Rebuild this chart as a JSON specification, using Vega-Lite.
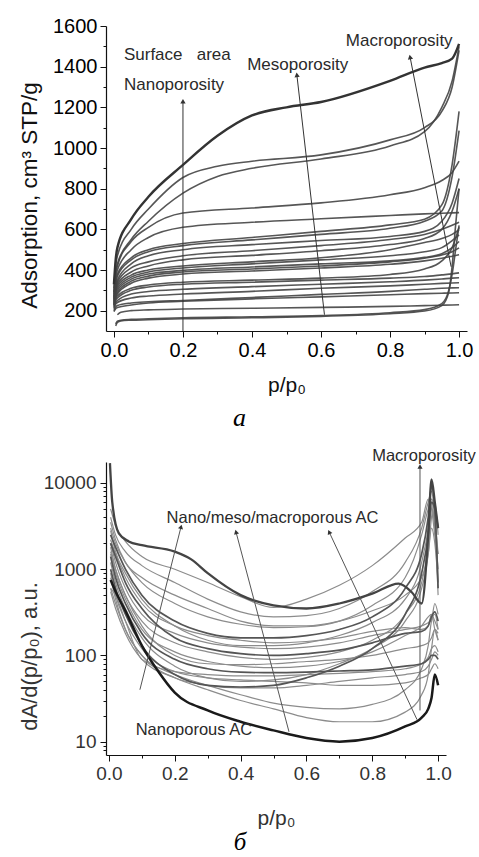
{
  "$schema": "https://vega.github.io/schema/vega-lite/v6.json",
  "background": "white",
  "padding": {"left": 18, "top": 16, "right": 0, "bottom": 0},
  "spacing": 16,
  "config": {
    "view": {"stroke": null},
    "font": "Liberation Sans",
    "axis": {"domainColor": "#111", "domainWidth": 1.2, "tickColor": "#111", "tickWidth": 1, "grid": false, "titleFontWeight": "normal", "labelFont": "Liberation Sans", "titleFont": "Liberation Sans"}
  },
  "datasets": {
    "iso": [
      {"s":1,"x":0,"y":330},{"s":1,"x":0.005,"y":450},{"s":1,"x":0.01,"y":510},{"s":1,"x":0.05,"y":650},{"s":1,"x":0.1,"y":760},{"s":1,"x":0.2,"y":917},{"s":1,"x":0.3,"y":1060},{"s":1,"x":0.4,"y":1160},{"s":1,"x":0.5,"y":1200},{"s":1,"x":0.6,"y":1226},{"s":1,"x":0.8,"y":1330},{"s":1,"x":0.9,"y":1395},{"s":1,"x":0.95,"y":1418},{"s":1,"x":0.98,"y":1440},{"s":1,"x":1,"y":1512},
      {"s":2,"x":0,"y":310},{"s":2,"x":0.005,"y":420},{"s":2,"x":0.01,"y":470},{"s":2,"x":0.05,"y":600},{"s":2,"x":0.1,"y":700},{"s":2,"x":0.2,"y":855},{"s":2,"x":0.3,"y":910},{"s":2,"x":0.4,"y":935},{"s":2,"x":0.6,"y":966},{"s":2,"x":0.8,"y":1040},{"s":2,"x":0.9,"y":1100},{"s":2,"x":0.95,"y":1180},{"s":2,"x":0.98,"y":1300},{"s":2,"x":1,"y":1480},
      {"s":3,"x":0,"y":290},{"s":3,"x":0.005,"y":390},{"s":3,"x":0.01,"y":430},{"s":3,"x":0.05,"y":550},{"s":3,"x":0.1,"y":640},{"s":3,"x":0.2,"y":778},{"s":3,"x":0.3,"y":860},{"s":3,"x":0.4,"y":900},{"s":3,"x":0.6,"y":946},{"s":3,"x":0.8,"y":1010},{"s":3,"x":0.9,"y":1080},{"s":3,"x":0.95,"y":1200},{"s":3,"x":0.98,"y":1330},{"s":3,"x":1,"y":1500},
      {"s":4,"x":0,"y":290},{"s":4,"x":0.005,"y":380},{"s":4,"x":0.01,"y":420},{"s":4,"x":0.05,"y":540},{"s":4,"x":0.1,"y":610},{"s":4,"x":0.2,"y":680},{"s":4,"x":0.4,"y":705},{"s":4,"x":0.6,"y":730},{"s":4,"x":0.8,"y":770},{"s":4,"x":0.9,"y":805},{"s":4,"x":0.95,"y":840},{"s":4,"x":0.98,"y":880},{"s":4,"x":1,"y":935},
      {"s":5,"x":0,"y":280},{"s":5,"x":0.005,"y":360},{"s":5,"x":0.01,"y":400},{"s":5,"x":0.05,"y":500},{"s":5,"x":0.1,"y":560},{"s":5,"x":0.2,"y":610},{"s":5,"x":0.4,"y":635},{"s":5,"x":0.6,"y":652},{"s":5,"x":0.8,"y":668},{"s":5,"x":0.9,"y":676},{"s":5,"x":0.95,"y":679},{"s":5,"x":0.98,"y":681},{"s":5,"x":1,"y":682},
      {"s":6,"x":0,"y":270},{"s":6,"x":0.005,"y":340},{"s":6,"x":0.01,"y":380},{"s":6,"x":0.05,"y":460},{"s":6,"x":0.1,"y":500},{"s":6,"x":0.2,"y":530},{"s":6,"x":0.4,"y":560},{"s":6,"x":0.6,"y":590},{"s":6,"x":0.8,"y":622},{"s":6,"x":0.9,"y":650},{"s":6,"x":0.95,"y":720},{"s":6,"x":0.98,"y":920},{"s":6,"x":1,"y":1180},
      {"s":7,"x":0,"y":265},{"s":7,"x":0.005,"y":330},{"s":7,"x":0.01,"y":370},{"s":7,"x":0.05,"y":450},{"s":7,"x":0.1,"y":490},{"s":7,"x":0.2,"y":520},{"s":7,"x":0.4,"y":548},{"s":7,"x":0.6,"y":575},{"s":7,"x":0.8,"y":605},{"s":7,"x":0.9,"y":640},{"s":7,"x":0.95,"y":690},{"s":7,"x":0.98,"y":860},{"s":7,"x":1,"y":1085},
      {"s":8,"x":0,"y":260},{"s":8,"x":0.005,"y":320},{"s":8,"x":0.01,"y":350},{"s":8,"x":0.05,"y":430},{"s":8,"x":0.1,"y":470},{"s":8,"x":0.2,"y":500},{"s":8,"x":0.4,"y":525},{"s":8,"x":0.6,"y":545},{"s":8,"x":0.8,"y":565},{"s":8,"x":0.9,"y":590},{"s":8,"x":0.95,"y":640},{"s":8,"x":0.98,"y":730},{"s":8,"x":1,"y":850},
      {"s":9,"x":0,"y":255},{"s":9,"x":0.005,"y":310},{"s":9,"x":0.01,"y":340},{"s":9,"x":0.05,"y":410},{"s":9,"x":0.1,"y":440},{"s":9,"x":0.2,"y":470},{"s":9,"x":0.4,"y":495},{"s":9,"x":0.6,"y":520},{"s":9,"x":0.8,"y":550},{"s":9,"x":0.9,"y":575},{"s":9,"x":0.95,"y":600},{"s":9,"x":0.98,"y":620},{"s":9,"x":1,"y":635},
      {"s":10,"x":0,"y":250},{"s":10,"x":0.005,"y":300},{"s":10,"x":0.01,"y":330},{"s":10,"x":0.05,"y":390},{"s":10,"x":0.1,"y":420},{"s":10,"x":0.2,"y":450},{"s":10,"x":0.4,"y":472},{"s":10,"x":0.6,"y":495},{"s":10,"x":0.8,"y":525},{"s":10,"x":0.9,"y":555},{"s":10,"x":0.95,"y":600},{"s":10,"x":0.98,"y":690},{"s":10,"x":1,"y":800},
      {"s":11,"x":0,"y":245},{"s":11,"x":0.005,"y":295},{"s":11,"x":0.01,"y":320},{"s":11,"x":0.05,"y":375},{"s":11,"x":0.1,"y":400},{"s":11,"x":0.2,"y":420},{"s":11,"x":0.4,"y":440},{"s":11,"x":0.6,"y":460},{"s":11,"x":0.8,"y":500},{"s":11,"x":0.9,"y":535},{"s":11,"x":0.95,"y":555},{"s":11,"x":0.98,"y":575},{"s":11,"x":1,"y":598},
      {"s":12,"x":0,"y":240},{"s":12,"x":0.005,"y":290},{"s":12,"x":0.01,"y":310},{"s":12,"x":0.05,"y":365},{"s":12,"x":0.1,"y":390},{"s":12,"x":0.2,"y":410},{"s":12,"x":0.4,"y":430},{"s":12,"x":0.6,"y":450},{"s":12,"x":0.8,"y":470},{"s":12,"x":0.9,"y":490},{"s":12,"x":0.95,"y":510},{"s":12,"x":0.98,"y":545},{"s":12,"x":1,"y":573},
      {"s":13,"x":0,"y":235},{"s":13,"x":0.005,"y":280},{"s":13,"x":0.01,"y":300},{"s":13,"x":0.05,"y":355},{"s":13,"x":0.1,"y":380},{"s":13,"x":0.2,"y":398},{"s":13,"x":0.4,"y":415},{"s":13,"x":0.6,"y":430},{"s":13,"x":0.8,"y":445},{"s":13,"x":0.9,"y":462},{"s":13,"x":0.95,"y":480},{"s":13,"x":0.98,"y":510},{"s":13,"x":1,"y":540},
      {"s":14,"x":0,"y":230},{"s":14,"x":0.005,"y":272},{"s":14,"x":0.01,"y":290},{"s":14,"x":0.05,"y":345},{"s":14,"x":0.1,"y":370},{"s":14,"x":0.2,"y":390},{"s":14,"x":0.4,"y":405},{"s":14,"x":0.6,"y":420},{"s":14,"x":0.8,"y":440},{"s":14,"x":0.9,"y":458},{"s":14,"x":0.95,"y":474},{"s":14,"x":0.98,"y":490},{"s":14,"x":1,"y":509},
      {"s":15,"x":0,"y":228},{"s":15,"x":0.005,"y":265},{"s":15,"x":0.01,"y":282},{"s":15,"x":0.05,"y":335},{"s":15,"x":0.1,"y":360},{"s":15,"x":0.2,"y":380},{"s":15,"x":0.4,"y":395},{"s":15,"x":0.6,"y":410},{"s":15,"x":0.8,"y":428},{"s":15,"x":0.9,"y":445},{"s":15,"x":0.95,"y":458},{"s":15,"x":0.98,"y":468},{"s":15,"x":1,"y":475},
      {"s":16,"x":0,"y":225},{"s":16,"x":0.005,"y":258},{"s":16,"x":0.01,"y":272},{"s":16,"x":0.05,"y":310},{"s":16,"x":0.1,"y":326},{"s":16,"x":0.2,"y":340},{"s":16,"x":0.4,"y":350},{"s":16,"x":0.6,"y":360},{"s":16,"x":0.8,"y":378},{"s":16,"x":0.9,"y":405},{"s":16,"x":0.95,"y":445},{"s":16,"x":0.98,"y":510},{"s":16,"x":1,"y":610},
      {"s":17,"x":0,"y":220},{"s":17,"x":0.005,"y":250},{"s":17,"x":0.01,"y":262},{"s":17,"x":0.05,"y":300},{"s":17,"x":0.1,"y":316},{"s":17,"x":0.2,"y":330},{"s":17,"x":0.4,"y":340},{"s":17,"x":0.6,"y":350},{"s":17,"x":0.8,"y":360},{"s":17,"x":0.9,"y":368},{"s":17,"x":0.95,"y":376},{"s":17,"x":0.98,"y":381},{"s":17,"x":1,"y":386},
      {"s":18,"x":0,"y":215},{"s":18,"x":0.005,"y":240},{"s":18,"x":0.01,"y":250},{"s":18,"x":0.05,"y":282},{"s":18,"x":0.1,"y":294},{"s":18,"x":0.2,"y":305},{"s":18,"x":0.4,"y":318},{"s":18,"x":0.6,"y":330},{"s":18,"x":0.8,"y":342},{"s":18,"x":0.9,"y":350},{"s":18,"x":0.95,"y":356},{"s":18,"x":0.98,"y":360},{"s":18,"x":1,"y":362},
      {"s":19,"x":0,"y":210},{"s":19,"x":0.005,"y":232},{"s":19,"x":0.01,"y":240},{"s":19,"x":0.05,"y":262},{"s":19,"x":0.1,"y":272},{"s":19,"x":0.2,"y":282},{"s":19,"x":0.4,"y":295},{"s":19,"x":0.6,"y":310},{"s":19,"x":0.8,"y":322},{"s":19,"x":0.9,"y":330},{"s":19,"x":0.95,"y":334},{"s":19,"x":0.98,"y":336},{"s":19,"x":1,"y":337},
      {"s":20,"x":0,"y":200},{"s":20,"x":0.005,"y":218},{"s":20,"x":0.01,"y":225},{"s":20,"x":0.05,"y":238},{"s":20,"x":0.1,"y":244},{"s":20,"x":0.2,"y":250},{"s":20,"x":0.4,"y":265},{"s":20,"x":0.6,"y":280},{"s":20,"x":0.8,"y":295},{"s":20,"x":0.9,"y":305},{"s":20,"x":0.95,"y":310},{"s":20,"x":0.98,"y":312},{"s":20,"x":1,"y":313},
      {"s":21,"x":0,"y":195},{"s":21,"x":0.005,"y":210},{"s":21,"x":0.01,"y":215},{"s":21,"x":0.05,"y":228},{"s":21,"x":0.1,"y":238},{"s":21,"x":0.2,"y":246},{"s":21,"x":0.4,"y":258},{"s":21,"x":0.6,"y":268},{"s":21,"x":0.8,"y":278},{"s":21,"x":0.9,"y":284},{"s":21,"x":0.95,"y":286},{"s":21,"x":0.98,"y":287},{"s":21,"x":1,"y":288},
      {"s":22,"x":0.01,"y":180},{"s":22,"x":0.02,"y":192},{"s":22,"x":0.05,"y":200},{"s":22,"x":0.1,"y":204},{"s":22,"x":0.2,"y":208},{"s":22,"x":0.4,"y":212},{"s":22,"x":0.6,"y":216},{"s":22,"x":0.8,"y":221},{"s":22,"x":0.9,"y":225},{"s":22,"x":0.95,"y":227},{"s":22,"x":0.98,"y":228},{"s":22,"x":1,"y":229},
      {"s":23,"x":0.005,"y":125},{"s":23,"x":0.01,"y":142},{"s":23,"x":0.02,"y":150},{"s":23,"x":0.05,"y":153},{"s":23,"x":0.1,"y":155},{"s":23,"x":0.2,"y":160},{"s":23,"x":0.4,"y":165},{"s":23,"x":0.6,"y":172},{"s":23,"x":0.8,"y":185},{"s":23,"x":0.9,"y":198},{"s":23,"x":0.95,"y":225},{"s":23,"x":0.97,"y":290},{"s":23,"x":0.98,"y":420},{"s":23,"x":0.99,"y":620},{"s":23,"x":1,"y":800},
      {"s":24,"x":0.005,"y":135},{"s":24,"x":0.01,"y":148},{"s":24,"x":0.02,"y":153},{"s":24,"x":0.05,"y":157},{"s":24,"x":0.1,"y":160},{"s":24,"x":0.2,"y":165},{"s":24,"x":0.4,"y":170},{"s":24,"x":0.6,"y":176},{"s":24,"x":0.8,"y":190},{"s":24,"x":0.9,"y":205},{"s":24,"x":0.95,"y":235},{"s":24,"x":0.97,"y":300},{"s":24,"x":0.98,"y":380},{"s":24,"x":0.99,"y":500},{"s":24,"x":1,"y":620}
    ],
    "dist": [
      {"s":1,"x":0.003,"y":17000},{"s":1,"x":0.01,"y":6000},{"s":1,"x":0.03,"y":2600},{"s":1,"x":0.06,"y":2100},{"s":1,"x":0.1,"y":1900},{"s":1,"x":0.2,"y":1600},{"s":1,"x":0.25,"y":1300},{"s":1,"x":0.3,"y":900},{"s":1,"x":0.4,"y":500},{"s":1,"x":0.5,"y":380},{"s":1,"x":0.6,"y":350},{"s":1,"x":0.7,"y":400},{"s":1,"x":0.8,"y":520},{"s":1,"x":0.88,"y":680},{"s":1,"x":0.92,"y":540},{"s":1,"x":0.95,"y":400},{"s":1,"x":0.97,"y":2500},{"s":1,"x":0.98,"y":11000},{"s":1,"x":0.99,"y":6000},{"s":1,"x":1,"y":3000},
      {"s":2,"x":0.005,"y":750},{"s":2,"x":0.02,"y":550},{"s":2,"x":0.05,"y":330},{"s":2,"x":0.1,"y":130},{"s":2,"x":0.15,"y":65},{"s":2,"x":0.2,"y":37},{"s":2,"x":0.3,"y":23},{"s":2,"x":0.4,"y":17},{"s":2,"x":0.5,"y":13.5},{"s":2,"x":0.6,"y":11},{"s":2,"x":0.7,"y":10},{"s":2,"x":0.8,"y":11},{"s":2,"x":0.9,"y":15},{"s":2,"x":0.95,"y":19},{"s":2,"x":0.97,"y":24},{"s":2,"x":0.98,"y":32},{"s":2,"x":0.99,"y":60},{"s":2,"x":1,"y":45},
      {"s":3,"x":0.005,"y":5000},{"s":3,"x":0.02,"y":3200},{"s":3,"x":0.05,"y":2100},{"s":3,"x":0.1,"y":1400},{"s":3,"x":0.2,"y":1000},{"s":3,"x":0.3,"y":700},{"s":3,"x":0.4,"y":480},{"s":3,"x":0.5,"y":360},{"s":3,"x":0.6,"y":450},{"s":3,"x":0.7,"y":650},{"s":3,"x":0.8,"y":1100},{"s":3,"x":0.9,"y":2300},{"s":3,"x":0.95,"y":3500},{"s":3,"x":0.97,"y":6500},{"s":3,"x":0.98,"y":5000},{"s":3,"x":0.99,"y":2500},{"s":3,"x":1,"y":1500},
      {"s":4,"x":0.005,"y":4000},{"s":4,"x":0.02,"y":2500},{"s":4,"x":0.05,"y":1600},{"s":4,"x":0.1,"y":1100},{"s":4,"x":0.2,"y":700},{"s":4,"x":0.3,"y":450},{"s":4,"x":0.4,"y":320},{"s":4,"x":0.5,"y":280},{"s":4,"x":0.6,"y":290},{"s":4,"x":0.7,"y":350},{"s":4,"x":0.8,"y":550},{"s":4,"x":0.9,"y":1200},{"s":4,"x":0.95,"y":3000},{"s":4,"x":0.97,"y":6000},{"s":4,"x":0.98,"y":8000},{"s":4,"x":0.99,"y":4000},{"s":4,"x":1,"y":1500},
      {"s":5,"x":0.005,"y":3000},{"s":5,"x":0.02,"y":2000},{"s":5,"x":0.05,"y":1200},{"s":5,"x":0.1,"y":700},{"s":5,"x":0.2,"y":400},{"s":5,"x":0.3,"y":280},{"s":5,"x":0.4,"y":230},{"s":5,"x":0.5,"y":210},{"s":5,"x":0.6,"y":215},{"s":5,"x":0.7,"y":250},{"s":5,"x":0.8,"y":380},{"s":5,"x":0.9,"y":800},{"s":5,"x":0.95,"y":2500},{"s":5,"x":0.97,"y":5000},{"s":5,"x":0.98,"y":6500},{"s":5,"x":0.99,"y":3000},{"s":5,"x":1,"y":1000},
      {"s":6,"x":0.005,"y":2500},{"s":6,"x":0.02,"y":1800},{"s":6,"x":0.05,"y":1000},{"s":6,"x":0.1,"y":500},{"s":6,"x":0.2,"y":250},{"s":6,"x":0.3,"y":180},{"s":6,"x":0.4,"y":160},{"s":6,"x":0.5,"y":160},{"s":6,"x":0.6,"y":170},{"s":6,"x":0.7,"y":200},{"s":6,"x":0.8,"y":280},{"s":6,"x":0.9,"y":600},{"s":6,"x":0.95,"y":1500},{"s":6,"x":0.97,"y":4000},{"s":6,"x":0.98,"y":9000},{"s":6,"x":0.99,"y":5000},{"s":6,"x":1,"y":600},
      {"s":7,"x":0.005,"y":2200},{"s":7,"x":0.02,"y":1500},{"s":7,"x":0.05,"y":800},{"s":7,"x":0.1,"y":400},{"s":7,"x":0.2,"y":220},{"s":7,"x":0.3,"y":170},{"s":7,"x":0.4,"y":150},{"s":7,"x":0.5,"y":140},{"s":7,"x":0.6,"y":145},{"s":7,"x":0.7,"y":160},{"s":7,"x":0.8,"y":190},{"s":7,"x":0.9,"y":210},{"s":7,"x":0.95,"y":200},{"s":7,"x":0.97,"y":220},{"s":7,"x":0.98,"y":300},{"s":7,"x":0.99,"y":250},{"s":7,"x":1,"y":200},
      {"s":8,"x":0.005,"y":2000},{"s":8,"x":0.02,"y":1200},{"s":8,"x":0.05,"y":600},{"s":8,"x":0.1,"y":300},{"s":8,"x":0.2,"y":180},{"s":8,"x":0.3,"y":140},{"s":8,"x":0.4,"y":125},{"s":8,"x":0.5,"y":120},{"s":8,"x":0.6,"y":125},{"s":8,"x":0.7,"y":140},{"s":8,"x":0.8,"y":170},{"s":8,"x":0.9,"y":200},{"s":8,"x":0.95,"y":220},{"s":8,"x":0.97,"y":240},{"s":8,"x":0.98,"y":260},{"s":8,"x":0.99,"y":400},{"s":8,"x":1,"y":300},
      {"s":9,"x":0.005,"y":2000},{"s":9,"x":0.02,"y":1400},{"s":9,"x":0.05,"y":700},{"s":9,"x":0.1,"y":350},{"s":9,"x":0.2,"y":160},{"s":9,"x":0.3,"y":120},{"s":9,"x":0.4,"y":105},{"s":9,"x":0.5,"y":100},{"s":9,"x":0.6,"y":105},{"s":9,"x":0.7,"y":115},{"s":9,"x":0.8,"y":140},{"s":9,"x":0.9,"y":180},{"s":9,"x":0.95,"y":190},{"s":9,"x":0.97,"y":220},{"s":9,"x":0.98,"y":280},{"s":9,"x":0.99,"y":320},{"s":9,"x":1,"y":250},
      {"s":10,"x":0.005,"y":1800},{"s":10,"x":0.02,"y":1000},{"s":10,"x":0.05,"y":500},{"s":10,"x":0.1,"y":250},{"s":10,"x":0.2,"y":140},{"s":10,"x":0.3,"y":110},{"s":10,"x":0.4,"y":95},{"s":10,"x":0.5,"y":90},{"s":10,"x":0.6,"y":95},{"s":10,"x":0.7,"y":110},{"s":10,"x":0.8,"y":150},{"s":10,"x":0.9,"y":300},{"s":10,"x":0.95,"y":700},{"s":10,"x":0.97,"y":2000},{"s":10,"x":0.98,"y":5000},{"s":10,"x":0.99,"y":3000},{"s":10,"x":1,"y":500},
      {"s":11,"x":0.005,"y":1500},{"s":11,"x":0.02,"y":900},{"s":11,"x":0.05,"y":450},{"s":11,"x":0.1,"y":200},{"s":11,"x":0.2,"y":110},{"s":11,"x":0.3,"y":85},{"s":11,"x":0.4,"y":75},{"s":11,"x":0.5,"y":72},{"s":11,"x":0.6,"y":75},{"s":11,"x":0.7,"y":85},{"s":11,"x":0.8,"y":110},{"s":11,"x":0.9,"y":170},{"s":11,"x":0.95,"y":220},{"s":11,"x":0.97,"y":280},{"s":11,"x":0.98,"y":300},{"s":11,"x":0.99,"y":200},{"s":11,"x":1,"y":150},
      {"s":12,"x":0.005,"y":1400},{"s":12,"x":0.02,"y":800},{"s":12,"x":0.05,"y":400},{"s":12,"x":0.1,"y":180},{"s":12,"x":0.2,"y":90},{"s":12,"x":0.3,"y":70},{"s":12,"x":0.4,"y":64},{"s":12,"x":0.5,"y":63},{"s":12,"x":0.6,"y":64},{"s":12,"x":0.7,"y":66},{"s":12,"x":0.8,"y":68},{"s":12,"x":0.9,"y":75},{"s":12,"x":0.95,"y":80},{"s":12,"x":0.97,"y":90},{"s":12,"x":0.98,"y":100},{"s":12,"x":0.99,"y":100},{"s":12,"x":1,"y":90},
      {"s":13,"x":0.005,"y":1200},{"s":13,"x":0.02,"y":700},{"s":13,"x":0.05,"y":350},{"s":13,"x":0.1,"y":160},{"s":13,"x":0.2,"y":75},{"s":13,"x":0.3,"y":55},{"s":13,"x":0.4,"y":50},{"s":13,"x":0.5,"y":52},{"s":13,"x":0.6,"y":60},{"s":13,"x":0.7,"y":80},{"s":13,"x":0.8,"y":120},{"s":13,"x":0.9,"y":250},{"s":13,"x":0.95,"y":600},{"s":13,"x":0.97,"y":1500},{"s":13,"x":0.98,"y":4000},{"s":13,"x":0.99,"y":6000},{"s":13,"x":1,"y":2500},
      {"s":14,"x":0.005,"y":1000},{"s":14,"x":0.02,"y":600},{"s":14,"x":0.05,"y":300},{"s":14,"x":0.1,"y":130},{"s":14,"x":0.2,"y":60},{"s":14,"x":0.3,"y":45},{"s":14,"x":0.4,"y":43},{"s":14,"x":0.5,"y":45},{"s":14,"x":0.6,"y":55},{"s":14,"x":0.7,"y":75},{"s":14,"x":0.8,"y":120},{"s":14,"x":0.9,"y":300},{"s":14,"x":0.95,"y":900},{"s":14,"x":0.97,"y":2500},{"s":14,"x":0.98,"y":6000},{"s":14,"x":0.99,"y":5000},{"s":14,"x":1,"y":3000},
      {"s":15,"x":0.005,"y":900},{"s":15,"x":0.02,"y":500},{"s":15,"x":0.05,"y":250},{"s":15,"x":0.1,"y":120},{"s":15,"x":0.2,"y":65},{"s":15,"x":0.3,"y":55},{"s":15,"x":0.4,"y":52},{"s":15,"x":0.5,"y":50},{"s":15,"x":0.6,"y":48},{"s":15,"x":0.7,"y":45},{"s":15,"x":0.8,"y":45},{"s":15,"x":0.9,"y":48},{"s":15,"x":0.95,"y":55},{"s":15,"x":0.97,"y":60},{"s":15,"x":0.98,"y":70},{"s":15,"x":0.99,"y":80},{"s":15,"x":1,"y":70},
      {"s":16,"x":0.005,"y":800},{"s":16,"x":0.02,"y":450},{"s":16,"x":0.05,"y":200},{"s":16,"x":0.1,"y":100},{"s":16,"x":0.2,"y":55},{"s":16,"x":0.3,"y":45},{"s":16,"x":0.4,"y":42},{"s":16,"x":0.5,"y":42},{"s":16,"x":0.6,"y":45},{"s":16,"x":0.7,"y":50},{"s":16,"x":0.8,"y":55},{"s":16,"x":0.9,"y":60},{"s":16,"x":0.95,"y":65},{"s":16,"x":0.97,"y":75},{"s":16,"x":0.98,"y":90},{"s":16,"x":0.99,"y":110},{"s":16,"x":1,"y":100},
      {"s":17,"x":0.005,"y":600},{"s":17,"x":0.02,"y":400},{"s":17,"x":0.05,"y":200},{"s":17,"x":0.1,"y":100},{"s":17,"x":0.2,"y":60},{"s":17,"x":0.3,"y":45},{"s":17,"x":0.4,"y":35},{"s":17,"x":0.5,"y":28},{"s":17,"x":0.6,"y":25},{"s":17,"x":0.7,"y":24},{"s":17,"x":0.8,"y":27},{"s":17,"x":0.9,"y":40},{"s":17,"x":0.95,"y":70},{"s":17,"x":0.97,"y":130},{"s":17,"x":0.98,"y":250},{"s":17,"x":0.99,"y":300},{"s":17,"x":1,"y":200},
      {"s":18,"x":0.005,"y":550},{"s":18,"x":0.02,"y":350},{"s":18,"x":0.05,"y":180},{"s":18,"x":0.1,"y":90},{"s":18,"x":0.2,"y":55},{"s":18,"x":0.3,"y":40},{"s":18,"x":0.4,"y":30},{"s":18,"x":0.5,"y":24},{"s":18,"x":0.6,"y":19},{"s":18,"x":0.7,"y":17},{"s":18,"x":0.8,"y":17},{"s":18,"x":0.9,"y":22},{"s":18,"x":0.95,"y":35},{"s":18,"x":0.97,"y":60},{"s":18,"x":0.98,"y":120},{"s":18,"x":0.99,"y":200},{"s":18,"x":1,"y":150},
      {"s":19,"x":0.005,"y":600},{"s":19,"x":0.02,"y":500},{"s":19,"x":0.05,"y":250},{"s":19,"x":0.1,"y":90},{"s":19,"x":0.2,"y":65},{"s":19,"x":0.3,"y":60},{"s":19,"x":0.4,"y":58},{"s":19,"x":0.5,"y":58},{"s":19,"x":0.6,"y":60},{"s":19,"x":0.7,"y":62},{"s":19,"x":0.8,"y":65},{"s":19,"x":0.9,"y":70},{"s":19,"x":0.95,"y":80},{"s":19,"x":0.97,"y":95},{"s":19,"x":0.98,"y":120},{"s":19,"x":0.99,"y":130},{"s":19,"x":1,"y":110},
      {"s":20,"x":0.005,"y":2800},{"s":20,"x":0.02,"y":1600},{"s":20,"x":0.05,"y":900},{"s":20,"x":0.1,"y":450},{"s":20,"x":0.2,"y":220},{"s":20,"x":0.3,"y":150},{"s":20,"x":0.4,"y":130},{"s":20,"x":0.5,"y":130},{"s":20,"x":0.6,"y":140},{"s":20,"x":0.7,"y":170},{"s":20,"x":0.8,"y":240},{"s":20,"x":0.9,"y":450},{"s":20,"x":0.95,"y":1200},{"s":20,"x":0.97,"y":3000},{"s":20,"x":0.98,"y":6500},{"s":20,"x":0.99,"y":5000},{"s":20,"x":1,"y":700},
      {"s":21,"x":0.005,"y":1600},{"s":21,"x":0.02,"y":1000},{"s":21,"x":0.05,"y":500},{"s":21,"x":0.1,"y":220},{"s":21,"x":0.2,"y":100},{"s":21,"x":0.3,"y":80},{"s":21,"x":0.4,"y":78},{"s":21,"x":0.5,"y":80},{"s":21,"x":0.6,"y":85},{"s":21,"x":0.7,"y":90},{"s":21,"x":0.8,"y":100},{"s":21,"x":0.9,"y":120},{"s":21,"x":0.95,"y":130},{"s":21,"x":0.97,"y":140},{"s":21,"x":0.98,"y":160},{"s":21,"x":0.99,"y":200},{"s":21,"x":1,"y":180},
      {"s":22,"x":0.005,"y":3500},{"s":22,"x":0.02,"y":2200},{"s":22,"x":0.05,"y":1200},{"s":22,"x":0.1,"y":800},{"s":22,"x":0.2,"y":500},{"s":22,"x":0.3,"y":350},{"s":22,"x":0.4,"y":250},{"s":22,"x":0.5,"y":220},{"s":22,"x":0.6,"y":220},{"s":22,"x":0.7,"y":250},{"s":22,"x":0.8,"y":330},{"s":22,"x":0.9,"y":500},{"s":22,"x":0.95,"y":800},{"s":22,"x":0.97,"y":1500},{"s":22,"x":0.98,"y":3000},{"s":22,"x":0.99,"y":2000},{"s":22,"x":1,"y":700}
    ],
    "arrA": [
      {"x":0.2,"y":100,"x2":0.2,"y2":1230,"dir":0},
      {"x":0.61,"y":180,"x2":0.53,"y2":1360,"dir":-6.7},
      {"x":0.977,"y":416,"x2":0.858,"y2":1448,"dir":-11}
    ],
    "arrB": [
      {"x":0.094,"y":40,"x2":0.219,"y2":3100,"dir":14},
      {"x":0.547,"y":13,"x2":0.386,"y2":2700,"dir":-15},
      {"x":0.936,"y":18,"x2":0.669,"y2":2700,"dir":-25},
      {"x":0.945,"y":23,"x2":0.945,"y2":15500,"dir":0}
    ],
    "txtA": [
      {"x":0.029,"y":1457,"t":"Surface\u00a0\u00a0\u00a0area"},
      {"x":0.029,"y":1310,"t":"Nanoporosity"},
      {"x":0.386,"y":1408,"t":"Mesoporosity"},
      {"x":0.672,"y":1526,"t":"Macroporosity"}
    ],
    "txtB": [
      {"x":0.497,"y":3944,"t":"Nano/meso/macroporous AC"},
      {"x":0.957,"y":20600,"t":"Macroporosity"},
      {"x":0.258,"y":13.8,"t":"Nanoporous AC"}
    ]
  },
  "vconcat": [
    {
      "width": 361,
      "height": 305,
      "title": {"text": "a", "orient": "bottom", "font": "Liberation Serif", "fontStyle": "italic", "fontWeight": "normal", "fontSize": 26, "dx": -47, "offset": 10, "color": "#000"},
      "encoding": {
        "x": {"field": "x", "type": "quantitative", "scale": {"domain": [-0.023, 1.023], "nice": false, "zero": false},
          "axis": {"title": "p/p₀", "titleFontSize": 21, "titlePadding": 14, "titleColor": "#111", "labelFontSize": 20, "labelColor": "#000", "labelPadding": 3,
            "values": [0,0.1,0.2,0.3,0.4,0.5,0.6,0.7,0.8,0.9,1],
            "labelExpr": "abs(datum.value*5-round(datum.value*5))<0.001 ? format(datum.value,'.1f') : ''",
            "tickSize": {"condition": {"test": "abs(datum.value*5-round(datum.value*5))<0.001", "value": 6}, "value": 3}}},
        "y": {"field": "y", "type": "quantitative", "scale": {"domain": [100, 1600], "nice": false, "zero": false},
          "axis": {"title": "Adsorption, cm³ STP/g", "titleFontSize": 22.5, "titlePadding": 11, "titleColor": "#111", "titleY": 169, "labelFontSize": 20, "labelColor": "#000", "labelPadding": 3,
            "values": [200,300,400,500,600,700,800,900,1000,1100,1200,1300,1400,1500,1600],
            "labelExpr": "datum.value % 200 == 0 ? format(datum.value,'d') : ''",
            "tickSize": {"condition": {"test": "datum.value % 200 == 0", "value": 6}, "value": 3}}}
      },
      "layer": [
        {"data": {"name": "iso"}, "transform": [{"filter": {"field": "s", "oneOf": [2,3,4,5,6,7,8,9,10,11,12,13,14,15,16,17,18,19,20,21,22,23,24]}}],
          "mark": {"type": "line", "interpolate": "monotone", "stroke": "#444", "strokeWidth": 1.6, "opacity": 0.9},
          "encoding": {"detail": {"field": "s"}}},
        {"data": {"name": "iso"}, "transform": [{"filter": {"field": "s", "oneOf": [1]}}],
          "mark": {"type": "line", "interpolate": "monotone", "stroke": "#333", "strokeWidth": 2.4},
          "encoding": {"detail": {"field": "s"}}},
        {"data": {"name": "arrA"}, "mark": {"type": "rule", "stroke": "#333", "strokeWidth": 1},
          "encoding": {"x2": {"field": "x2"}, "y2": {"field": "y2"}}},
        {"data": {"name": "arrA"}, "mark": {"type": "point", "shape": "triangle-up", "filled": true, "color": "#333", "size": 28, "opacity": 1},
          "encoding": {"x": {"field": "x2", "type": "quantitative"}, "y": {"field": "y2", "type": "quantitative"}, "angle": {"field": "dir", "type": "quantitative", "scale": null}}},
        {"data": {"name": "txtA"}, "mark": {"type": "text", "align": "left", "baseline": "middle", "fontSize": 17, "color": "#2a2a2a", "font": "Liberation Sans"},
          "encoding": {"text": {"field": "t"}}}
      ]
    },
    {
      "width": 340,
      "height": 293,
      "title": {"text": "б", "orient": "bottom", "font": "Liberation Serif", "fontStyle": "italic", "fontWeight": "normal", "fontSize": 25, "dx": -36, "offset": 2, "color": "#000"},
      "encoding": {
        "x": {"field": "x", "type": "quantitative", "scale": {"domain": [-0.009, 1.024], "nice": false, "zero": false},
          "axis": {"title": "p/p₀", "titleFontSize": 21, "titlePadding": 24, "titleColor": "#333", "labelFontSize": 19, "labelColor": "#333", "labelPadding": 3,
            "values": [0,0.1,0.2,0.3,0.4,0.5,0.6,0.7,0.8,0.9,1],
            "labelExpr": "abs(datum.value*5-round(datum.value*5))<0.001 ? format(datum.value,'.1f') : ''",
            "tickSize": {"condition": {"test": "abs(datum.value*5-round(datum.value*5))<0.001", "value": 6}, "value": 3}}},
        "y": {"field": "y", "type": "quantitative", "scale": {"type": "log", "domain": [7, 17500], "nice": false},
          "axis": {"title": "dA/d(p/p₀), a.u.", "titleFontSize": 22, "titlePadding": 2, "titleColor": "#333", "titleY": 194, "labelFontSize": 19, "labelColor": "#333", "labelPadding": 4,
            "values": [8,9,10,20,30,40,50,60,70,80,90,100,200,300,400,500,600,700,800,900,1000,2000,3000,4000,5000,6000,7000,8000,9000,10000],
            "labelExpr": "indexof([10,100,1000,10000], datum.value) >= 0 ? format(datum.value,'d') : ''",
            "tickSize": {"condition": {"test": "indexof([10,100,1000,10000], datum.value) >= 0", "value": 6}, "value": 3}}}
      },
      "layer": [
        {"data": {"name": "dist"}, "transform": [{"filter": {"field": "s", "oneOf": [3,4,5,7,8,10,11,13,15,16,17,18,19,20,21,22]}}],
          "mark": {"type": "line", "interpolate": "monotone", "stroke": "#8c8c8c", "strokeWidth": 1.2},
          "encoding": {"detail": {"field": "s"}}},
        {"data": {"name": "dist"}, "transform": [{"filter": {"field": "s", "oneOf": [6,9,12,14]}}],
          "mark": {"type": "line", "interpolate": "monotone", "stroke": "#555", "strokeWidth": 1.7},
          "encoding": {"detail": {"field": "s"}}},
        {"data": {"name": "dist"}, "transform": [{"filter": {"field": "s", "oneOf": [1]}}],
          "mark": {"type": "line", "interpolate": "monotone", "stroke": "#444", "strokeWidth": 2.3},
          "encoding": {"detail": {"field": "s"}}},
        {"data": {"name": "dist"}, "transform": [{"filter": {"field": "s", "oneOf": [2]}}],
          "mark": {"type": "line", "interpolate": "monotone", "stroke": "#1a1a1a", "strokeWidth": 2.5},
          "encoding": {"detail": {"field": "s"}}},
        {"data": {"name": "arrB"}, "mark": {"type": "rule", "stroke": "#555", "strokeWidth": 1},
          "encoding": {"x2": {"field": "x2"}, "y2": {"field": "y2"}}},
        {"data": {"name": "arrB"}, "mark": {"type": "point", "shape": "triangle-up", "filled": true, "color": "#333", "size": 26, "opacity": 1},
          "encoding": {"x": {"field": "x2", "type": "quantitative"}, "y": {"field": "y2", "type": "quantitative"}, "angle": {"field": "dir", "type": "quantitative", "scale": null}}},
        {"data": {"name": "txtB"}, "mark": {"type": "text", "align": "center", "baseline": "middle", "fontSize": 16.5, "color": "#2a2a2a", "font": "Liberation Sans"},
          "encoding": {"text": {"field": "t"}}}
      ]
    }
  ]
}
